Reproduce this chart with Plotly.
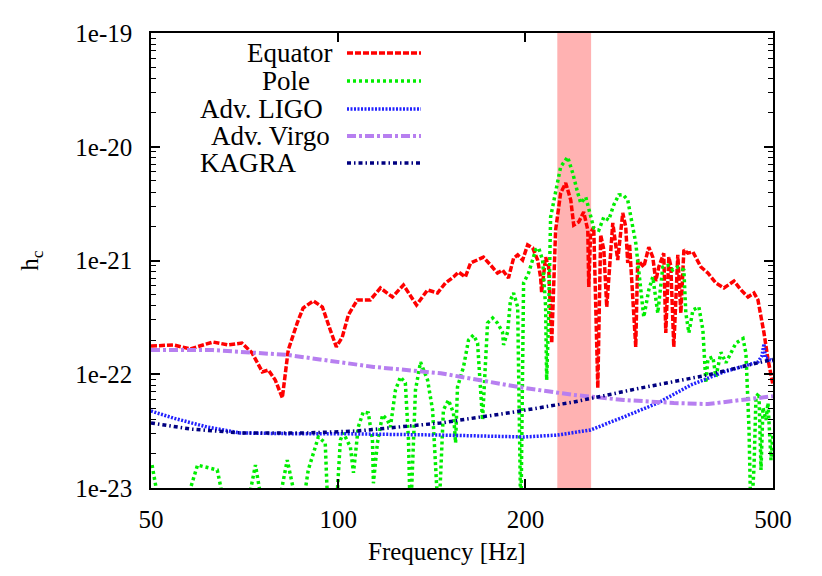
import plotly.graph_objects as go

# ---------------- data ----------------
eq_f = [50, 54.3, 57.8, 62.9, 66.5, 70.0, 72.7, 75.5, 77.2, 79.2, 81.3, 83.1, 85.9, 87.8, 91.2, 94.3,
        97.1, 99.3, 101.5, 103.8, 107.3, 112.6, 116.9, 122.2, 127.3, 133.6, 139.2, 144.4, 148.7, 153.2,
        156.1, 160.1, 163.2, 167.5, 171.2, 175.8, 180.3, 183.7, 187.8, 191.4, 194.3, 197.9, 201.6, 205.4,
        209.2, 211.5, 212.3, 215.5, 217.9, 220.4, 223.6, 227.8, 232.1, 236.5, 239.1, 243.6, 248.1, 251.9,
        252.8, 254.5, 257.5, 261.4, 264.2, 267.3, 270.2, 276.3, 281.4, 286.7, 289.9, 292.0, 294.0, 300.8,
        303.0, 309.9, 315.7, 320.4, 324.0, 327.6, 333.7, 336.2, 340.0, 342.5, 346.3, 351.5, 355.5, 359.5,
        364.8, 371.7, 382.9, 392.9, 404.7, 417.0, 432.7, 444.2, 455.8, 466.0, 472.9, 478.3, 483.6, 490.7,
        498.2, 500]
eq_h = [1.77e-22, 1.81e-22, 1.67e-22, 1.92e-22, 1.81e-22, 1.88e-22, 1.54e-22, 1.05e-22, 1.09e-22, 8.9e-23,
        6.2e-23, 1.63e-22, 2.82e-22, 3.82e-22, 4.41e-22, 3.90e-22, 2.45e-22, 1.74e-22, 2.12e-22, 3.32e-22,
        4.50e-22, 4.50e-22, 5.73e-22, 4.78e-22, 6.09e-22, 4.06e-22, 5.51e-22, 5.18e-22, 6.34e-22, 7.16e-22,
        7.92e-22, 7.16e-22, 9.5e-22, 1.01e-21, 1.07e-21, 9.1e-22, 7.76e-22, 8.24e-22, 7.02e-22, 1.05e-21,
        1.12e-21, 1.01e-21, 1.37e-21, 1.29e-21, 1.01e-21, 7.16e-22, 5.28e-22, 1.07e-21, 8.77e-22, 1.88e-22,
        1.85e-21, 3.92e-21, 4.80e-21, 3.40e-21, 2.05e-21, 2.18e-21, 2.67e-21, 1.85e-21, 5.85e-22, 1.75e-21,
        1.97e-21, 7.57e-23, 1.68e-21, 1.24e-21, 3.90e-22, 2.14e-21, 1.01e-21, 2.62e-21, 1.97e-21, 9.5e-22,
        1.4e-21, 1.74e-22, 1.01e-21, 8.77e-22, 1.31e-21, 1.07e-21, 6.6e-22, 8.77e-22, 1.16e-21, 2.31e-22,
        1.07e-21, 9.0e-22, 1.74e-22, 1.12e-21, 3.45e-22, 1.24e-21, 1.16e-21, 1.19e-21, 8.77e-22, 7.76e-22,
        6.34e-22, 5.73e-22, 6.6e-22, 5.51e-22, 4.78e-22, 5.18e-22, 4.50e-22, 3.2e-22, 2.31e-22, 1.36e-22,
        8.9e-23, 8.0e-23]

pole_f = [50.2, 52.1, 55.7, 59.4, 63.9, 66.5, 70.6, 73.6, 76.3, 79.2, 82.8, 86.9, 89.5, 92.9, 95.3, 96.4,
          99.0, 100.8, 101.9, 104.6, 105.8, 107.7, 109.7, 111.8, 113.5, 113.9, 115.6, 117.8, 120.0, 121.3,
          123.6, 125.9, 128.2, 129.7, 130.6, 132.1, 133.1, 135.6, 139.2, 141.8, 145.0, 147.6, 150.4, 153.2,
          154.4, 155.5, 159.0, 162.0, 165.0, 167.5, 170.6, 173.8, 177.1, 180.3, 183.7, 184.4, 187.2, 189.2,
          191.4, 194.3, 196.6, 198.6, 202.3, 207.7, 210.0, 213.1, 215.5, 216.3, 217.9, 219.5, 223.6, 227.8,
          233.8, 238.2, 242.7, 245.4, 250.0, 254.5, 257.5, 262.4, 267.3, 272.2, 277.3, 282.5, 287.0, 292.0,
          297.5, 300.8, 304.1, 309.9, 315.7, 320.4, 326.4, 332.5, 338.7, 345.1, 351.5, 359.5, 362.1, 366.2,
          371.7, 380.0, 385.7, 390.0, 392.9, 400.3, 404.7, 412.4, 420.1, 427.9, 435.9, 447.5, 452.4, 457.5,
          460.9, 466.0, 469.5, 474.7, 478.3, 481.8, 487.3, 490.8, 496.3, 500]
pole_h = [1.59e-23, 5e-24, 5e-24, 1.59e-23, 1.44e-23, 5e-24, 5e-24, 1.59e-23, 5e-24, 5e-24, 1.76e-23, 5e-24,
          1.44e-23, 2.81e-23, 2.49e-23, 5e-24, 5e-24, 2.64e-23, 3.05e-23, 2.29e-23, 1.36e-23, 3.44e-23,
          4.66e-23, 4.56e-23, 2.64e-23, 1.1e-23, 2.49e-23, 4.39e-23, 3.96e-23, 3.44e-23, 7.27e-23, 9.46e-23,
          8.38e-23, 2.64e-23, 5e-24, 3.05e-23, 7.27e-23, 1.28e-22, 8.89e-23, 4.85e-23, 5e-24, 4.85e-23,
          5.94e-23, 4.56e-23, 2.49e-23, 7.73e-23, 1.16e-22, 2.00e-22, 2.21e-22, 1.88e-22, 3.96e-23, 2.82e-22,
          3.12e-22, 2.82e-22, 2.35e-22, 1.81e-22, 2.35e-22, 4.50e-22, 5.18e-22, 3.90e-22, 5e-24, 6.34e-22,
          7.76e-22, 1.24e-21, 1.29e-21, 1.01e-21, 3.90e-22, 8.89e-23, 3.18e-22, 2.41e-21, 4.17e-21, 6.64e-21,
          8.13e-21, 5.88e-21, 3.92e-21, 3.20e-21, 3.61e-21, 2.41e-21, 1.93e-21, 1.85e-21, 2.41e-21, 2.27e-21,
          3.08e-21, 3.77e-21, 3.8e-21, 3.40e-21, 1.97e-21, 1.43e-21, 8.24e-22, 3.18e-22, 5.51e-22, 7.16e-22,
          3.45e-22, 8.77e-22, 9.1e-22, 8.24e-22, 8.77e-22, 8.24e-22, 3.45e-22, 2.31e-22, 3.67e-22, 3.90e-22,
          2.45e-22, 8.38e-23, 1.36e-22, 1.42e-22, 9.46e-23, 1.56e-22, 1.26e-22, 1.52e-22, 1.88e-22, 2.06e-22,
          1.52e-22, 3.3e-23, 5e-24, 1.5e-23, 6.31e-23, 6.84e-23, 1.44e-23, 5.1e-23, 3.96e-23, 5.6e-23,
          1.76e-23, 3.0e-23]

ligo_f = [50, 54.3, 61.5, 69.5, 83.7, 100.8, 146.1, 199.2, 225.3, 254.5, 287.7, 326.4, 368.9, 416.9,
          472.8, 480.0, 483.6, 486.0, 500]
ligo_h = [4.75e-23, 4.12e-23, 3.44e-23, 3.05e-23, 3.0e-23, 3.0e-23, 2.92e-23, 2.81e-23, 2.92e-23, 3.24e-23,
          4.21e-23, 5.59e-23, 8.04e-23, 1.05e-22, 1.28e-22, 1.45e-22, 1.85e-22, 1.4e-22, 1.3e-22]

virgo_f = [50, 62.9, 82.8, 114.0, 146.1, 199.2, 239.1, 287.7, 346.3, 393.0, 444.3, 500]
virgo_h = [1.63e-22, 1.63e-22, 1.48e-22, 1.16e-22, 1.02e-22, 7.57e-23, 6.58e-23, 5.94e-23, 5.59e-23,
           5.47e-23, 5.94e-23, 6.4e-23]

kagra_f = [50, 57.8, 69.5, 89.2, 107.3, 137.1, 146.1, 187.2, 239.1, 306.4, 393.0, 472.8, 500]
kagra_h = [3.73e-23, 3.30e-23, 3.05e-23, 3.05e-23, 3.17e-23, 3.58e-23, 3.73e-23, 4.56e-23, 5.70e-23,
           7.57e-23, 9.85e-23, 1.26e-22, 1.35e-22]

band_low, band_high = 225, 255

names = ["Equator", "Pole", "Adv. LIGO", "Adv. Virgo", "KAGRA"]
x_title = "Frequency [Hz]"
x_ticks = [50, 100, 200, 500]
x_ticktext = ["50", "100", "200", "500"]
y_ticks = [1e-23, 1e-22, 1e-21, 1e-20, 1e-19]
y_ticktext = ["1e-23", "1e-22", "1e-21", "1e-20", "1e-19"]

# ---------------- styles ----------------
FONT = "serif"
styles = [
    dict(color="#ff0000", width=3.5, dash="6px,2px"),
    dict(color="#00ee00", width=3.5, dash="3px,3px"),
    dict(color="#2222ff", width=3.5, dash="2px,1.5px"),
    dict(color="#b77ff0", width=4, dash="9px,3px,3px,3px"),
    dict(color="#000080", width=3.5, dash="4px,3px,1.5px,3px"),
]
series = [(eq_f, eq_h), (pole_f, pole_h), (ligo_f, ligo_h), (virgo_f, virgo_h), (kagra_f, kagra_h)]

fig = go.Figure()
for i, (f, h) in enumerate(series):
    fig.add_trace(go.Scatter(x=f, y=h, mode="lines", name=names[i], line=styles[i], showlegend=False))

# shaded band
fig.add_shape(type="rect", xref="x", yref="paper", x0=band_low, x1=band_high, y0=0, y1=1,
              fillcolor="rgba(255,0,0,0.3)", line=dict(width=0), layer="below")

# legend drawn gnuplot-style (label, then line sample on the right)
W, H = 622, 455
leg_rows = [53, 81, 109, 136, 163]
leg_centers = [289, 286, 261, 270, 248]
for i, name in enumerate(names):
    yp = (488 - leg_rows[i]) / H
    fig.add_annotation(xref="paper", yref="paper", x=(leg_centers[i] - 151) / W, y=yp, text=name,
                       showarrow=False, xanchor="center", yanchor="middle",
                       font=dict(family=FONT, size=27, color="black"))
    fig.add_shape(type="line", xref="paper", yref="paper", x0=(347 - 151) / W, x1=(421 - 151) / W,
                  y0=yp, y1=yp, line=styles[i])

# x-axis title as a serif annotation
fig.add_annotation(xref="paper", yref="paper", x=(447 - 151) / W, y=(488 - 551) / H, text=x_title,
                   showarrow=False, xanchor="center", yanchor="middle",
                   font=dict(family=FONT, size=25, color="black"))

minor_y = [m * 10.0 ** e for e in range(-23, -19) for m in range(2, 10)]

fig.update_layout(
    template="none",
    width=822, height=576,
    margin=dict(l=143, r=57, t=25, b=96),
    plot_bgcolor="white", paper_bgcolor="white",
    font=dict(family=FONT, size=25, color="black"),
)
fig.update_xaxes(
    type="log", range=[1.69897, 2.69897],
    tickvals=x_ticks, ticktext=x_ticktext,
    ticks="inside", ticklen=9, tickwidth=1.5, tickcolor="black", ticklabelstandoff=8,
    showline=True, linecolor="black", linewidth=1.5, mirror="allticks",
    showgrid=False, zeroline=False,
    tickfont=dict(family=FONT, size=25, color="black"),
)
fig.update_yaxes(
    type="log", range=[-23, -19],
    tickvals=y_ticks, ticktext=y_ticktext,
    ticks="inside", ticklen=9, tickwidth=1.5, tickcolor="black", ticklabelstandoff=12,
    minor=dict(tickvals=minor_y, ticks="inside", ticklen=5, tickwidth=1, tickcolor="black", showgrid=False),
    showline=True, linecolor="black", linewidth=1.5, mirror="allticks",
    showgrid=False, zeroline=False,
    title=dict(text="h<sub>c</sub>", standoff=30, font=dict(family=FONT, size=25, color="black")),
    tickfont=dict(family=FONT, size=25, color="black"),
)

fig.write_html("out.html")
